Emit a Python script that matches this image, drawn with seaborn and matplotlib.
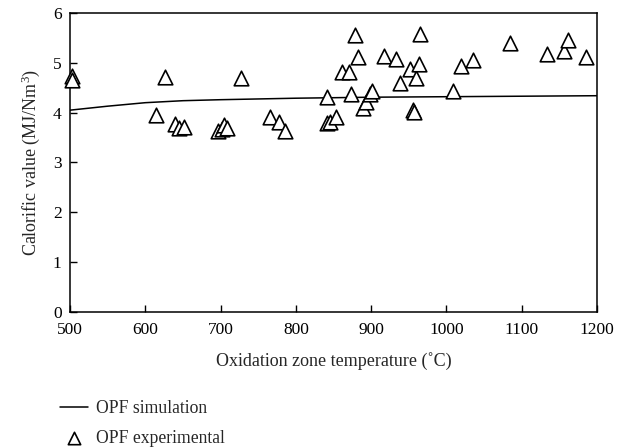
import matplotlib
matplotlib.use("Agg")
import matplotlib.pyplot as plt
import seaborn as sns
import pandas as pd

# Simulation curve
sim_temp = [500, 550, 600, 650, 700, 800, 900, 1000, 1100, 1200]
sim_cv = [4.05, 4.13, 4.20, 4.24, 4.26, 4.29, 4.31, 4.32, 4.33, 4.34]

# Experimental points
exp_temp = [502, 502, 614, 626, 639, 645, 651, 697, 702, 705, 708, 727,
            765, 778, 786, 841, 842, 846, 853, 861, 871, 873, 878, 882,
            889, 893, 898, 901, 917, 933, 939, 951, 956, 957, 960, 964,
            965, 1009, 1019, 1035, 1084, 1134, 1156, 1161, 1185]
exp_cv = [4.73, 4.66, 3.95, 4.71, 3.77, 3.70, 3.72, 3.63, 3.68, 3.75, 3.70, 4.70,
          3.91, 3.81, 3.63, 4.32, 3.80, 3.82, 3.92, 4.82, 4.81, 4.38, 5.55, 5.12,
          4.09, 4.22, 4.38, 4.43, 5.13, 5.08, 4.60, 4.87, 4.05, 4.02, 4.69, 4.97,
          5.58, 4.44, 4.94, 5.05, 5.40, 5.17, 5.24, 5.45, 5.12]

x_ticks = [500, 600, 700, 800, 900, 1000, 1100, 1200]
y_ticks = [0, 1, 2, 3, 4, 5, 6]

sns.set_theme(style="white")
plt.rcParams['font.family'] = ['Liberation Serif', 'DejaVu Serif']
plt.rcParams['mathtext.fontset'] = 'custom'
plt.rcParams['mathtext.rm'] = 'Liberation Serif'
plt.rcParams['mathtext.it'] = 'Liberation Serif:italic'

fig = plt.figure(figsize=(6.24, 4.48), dpi=100)
ax = fig.add_axes([0.1122, 0.3036, 0.8445, 0.6674])

sim_df = pd.DataFrame({"T": sim_temp, "CV": sim_cv})
exp_df = pd.DataFrame({"T": exp_temp, "CV": exp_cv})

sns.lineplot(data=sim_df, x="T", y="CV", ax=ax, color="black", linewidth=1.1,
             label="OPF simulation")
sns.scatterplot(data=exp_df, x="T", y="CV", ax=ax, marker="^", s=110,
                facecolor="white", edgecolor="black", linewidth=1.2,
                label="OPF experimental", zorder=3, clip_on=False)

ax.set_xlim(500, 1200)
ax.set_ylim(0, 6)
ax.set_xticks(x_ticks)
ax.set_yticks(y_ticks)
ax.set_xticklabels([str(v) for v in x_ticks], fontsize=12.5)
ax.set_yticklabels([str(v) for v in y_ticks], fontsize=12.5)
ax.tick_params(direction="in", length=5, width=1, colors="black",
               bottom=True, left=True, top=False, right=False)
ax.tick_params(axis="x", pad=7)
ax.tick_params(axis="y", pad=6)
for sp in ax.spines.values():
    sp.set_color("black")
    sp.set_linewidth(1.1)

ax.set_xlabel("Oxidation zone temperature (\u02daC)", fontsize=13, labelpad=10)
ax.set_ylabel("Calorific value (MJ/Nm$^3$)", fontsize=13, labelpad=8)

handles, labels = ax.get_legend_handles_labels()
ax.legend_.remove()
leg = fig.legend(handles, labels, loc="upper left",
                 bbox_to_anchor=(0.0764, 0.135), frameon=False,
                 fontsize=12.7, handlelength=1.6, handletextpad=0.45,
                 labelspacing=0.73, markerscale=0.85, borderaxespad=0.3)

fig.savefig("out.png", dpi=100)
